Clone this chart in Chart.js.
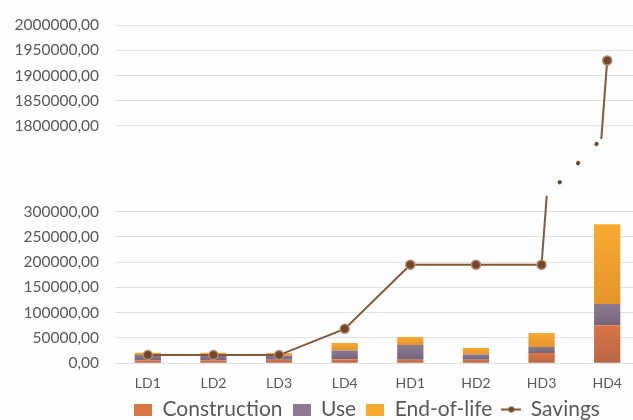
<!DOCTYPE html>
<html><head><meta charset="utf-8">
<script src="https://cdn.jsdelivr.net/npm/chart.js@4.4.1/dist/chart.umd.min.js"></script>
<style>html,body{margin:0;padding:0;background:#fdfdfd;overflow:hidden;width:633px;height:420px}canvas{display:block}</style>
</head><body>
<canvas id="c" width="646" height="420"></canvas>
<script>
// ---- data ----
const categories   = ['LD1','LD2','LD3','LD4','HD1','HD2','HD3','HD4'];
const construction = [6000, 6000, 7000, 8000, 7000, 7000, 20000, 75000];
const useStage     = [10000, 10000, 8000, 17000, 29000, 10000, 12000, 42000];
const endOfLife    = [4500, 4500, 5000, 15000, 16000, 13000, 28000, 158000];
const savings      = [16000, 16000, 16000, 68000, 195000, 195000, 195000, 1930000];
const seriesNames  = ['Construction', 'Use', 'End-of-life', 'Savings'];
const lowerRange   = [0, 300000];
const upperRange   = [1800000, 2000000];
const tickStep     = 50000;

// ---- styles ----
const colors = {
  construction:['#DA7544','#BA6646'], use:['#8C7A92','#76657C'], eol:['#F8AA30','#E6952C'],
  line:'#83593A', point:'#74472A', pointRing:'#B58B6B'
};
const textColor = '#595959';
const gridColor = '#E3E3E3';
const legendShift = 9;
const yAxisWidth = 100;
Chart.defaults.font.family = 'Lato';

const lastIdx = categories.length - 1;
const savingsUpper = savings.map((v, i) => i >= lastIdx - 1 ? v : null);
const fmt = v => Number(v).toFixed(2).replace('.', ',');

function barGradient(pair){
  return (ctx) => {
    const el = ctx.element;
    if (ctx.type !== 'data' || !el || !Number.isFinite(el.y) || !Number.isFinite(el.base) || el.y === el.base) return pair[0];
    const g = ctx.chart.ctx.createLinearGradient(0, el.y, 0, el.base);
    g.addColorStop(0, pair[0]); g.addColorStop(1, pair[1]);
    return g;
  };
}
function swatch(color){ const c=document.createElement('canvas'); c.width=18; c.height=12; const g=c.getContext('2d'); g.fillStyle=color; g.fillRect(0,0,18,12); return c; }
function lineSwatch(){ const c=document.createElement('canvas'); c.width=20; c.height=12; const g=c.getContext('2d'); g.strokeStyle=colors.line; g.lineWidth=2; g.beginPath(); g.moveTo(0,6); g.lineTo(20,6); g.stroke(); g.fillStyle=colors.point; g.beginPath(); g.arc(10,6,3,0,Math.PI*2); g.fill(); return c; }
const legendImgs = [swatch(colors.construction[0]), swatch(colors.use[0]), swatch(colors.eol[0]), lineSwatch()];

const breakPlugin = {
  id: 'axisBreak',
  afterLayout(chart){
    if (chart.legend) { chart.legend.left += legendShift; chart.legend.right += legendShift; }
  },
  beforeDatasetDraw(chart, args){
    const ds = chart.data.datasets[args.index];
    if (!ds.breakClip) return;
    const s = chart.scales[ds.yAxisID], a = chart.chartArea, ctx = chart.ctx;
    const top = s.top - ds.breakClip.top, bottom = s.bottom + ds.breakClip.bottom;
    ctx.save(); ctx.beginPath(); ctx.rect(a.left - 10, top, a.right - a.left + 20, bottom - top); ctx.clip();
  },
  afterDatasetDraw(chart, args){
    if (chart.data.datasets[args.index].breakClip) chart.ctx.restore();
  },
  afterDatasetsDraw(chart){
    const lo = chart.getDatasetMeta(3).data, up = chart.getDatasetMeta(4).data;
    const dsLo = chart.data.datasets[3], dsUp = chart.data.datasets[4];
    const yL = chart.scales.y.top - dsLo.breakClip.top;
    const yU = chart.scales.yTop.bottom + dsUp.breakClip.bottom;
    const p0 = lo[lastIdx-1], p1 = lo[lastIdx], q0 = up[lastIdx-1], q1 = up[lastIdx];
    const xL = p0.x + (yL - p0.y) / (p1.y - p0.y) * (p1.x - p0.x);
    const xU = q0.x + (yU - q0.y) / (q1.y - q0.y) * (q1.x - q0.x);
    const ctx = chart.ctx;
    ctx.save();
    ctx.strokeStyle = colors.point; ctx.lineWidth = 4; ctx.lineCap = 'round';
    ctx.setLineDash([0.5, 26]); ctx.lineDashOffset = 8;
    ctx.beginPath(); ctx.moveTo(xL, yL); ctx.lineTo(xU, yU); ctx.stroke();
    ctx.restore();
  }
};

const yCommon = {
  type:'linear', position:'left', stack:'v',
  border:{display:false},
  grid:{color:gridColor, drawTicks:false, lineWidth:1},
  ticks:{color:textColor, font:{size:15.5}, padding:16, stepSize:tickStep, autoSkip:false, callback: fmt},
  afterFit(scale){ scale.width = yAxisWidth; }
};

const chart = new Chart(document.getElementById('c'), {
  type:'bar',
  data:{
    labels: categories,
    datasets:[
      {label:seriesNames[0], data:construction, backgroundColor:barGradient(colors.construction), yAxisID:'y', order:1},
      {label:seriesNames[1], data:useStage, backgroundColor:barGradient(colors.use), yAxisID:'y', order:1},
      {label:seriesNames[2], data:endOfLife, backgroundColor:barGradient(colors.eol), yAxisID:'y', order:1},
      {type:'line', label:seriesNames[3], data:savings, yAxisID:'y', stack:'line', order:0, clip:false,
       breakClip:{top:16, bottom:12},
       borderColor:colors.line, borderWidth:2, tension:0,
       pointRadius:savings.map((v,i)=> i===lastIdx ? 0 : 4.5),
       pointBackgroundColor:colors.point, pointBorderColor:colors.pointRing, pointBorderWidth:1.5},
      {type:'line', label:seriesNames[3]+' ', data:savingsUpper, yAxisID:'yTop', stack:'line2', order:0, clip:false,
       breakClip:{top:12, bottom:13},
       borderColor:colors.line, borderWidth:2, tension:0,
       pointRadius:savingsUpper.map((v,i)=> i===lastIdx ? 4.5 : 0),
       pointBackgroundColor:colors.point, pointBorderColor:colors.pointRing, pointBorderWidth:1.5}
    ]
  },
  options:{
    responsive:false, animation:false, events:[],
    layout:{padding:{left:15, top:23, right:0, bottom:-10}},
    datasets:{bar:{categoryPercentage:1, barPercentage:0.4}},
    scales:{
      x:{stacked:true, grid:{display:false, drawTicks:false}, border:{display:false},
         ticks:{color:textColor, font:{size:14}, padding:12},
         afterFit(scale){ scale.height = 25.8; }},
      y:Object.assign({}, yCommon, {stacked:true, min:lowerRange[0], max:lowerRange[1], stackWeight:152}),
      yGap:{type:'linear', position:'left', stack:'v', stackWeight:86, display:true,
            grid:{display:false}, border:{display:false}, ticks:{display:false},
            afterFit(scale){ scale.width = yAxisWidth; }},
      yTop:Object.assign({}, yCommon, {min:upperRange[0], max:upperRange[1], stackWeight:101})
    },
    plugins:{
      tooltip:{enabled:false},
      legend:{position:'bottom', fullSize:false, align:'start',
        labels:{color:textColor, font:{size:21}, padding:10, boxWidth:18, boxHeight:12, usePointStyle:true,
          sort:(a,b)=>a.datasetIndex-b.datasetIndex,
          filter:item=>item.datasetIndex!==4,
          generateLabels(chart){
            const items = Chart.defaults.plugins.legend.labels.generateLabels(chart);
            return items.map(it => Object.assign(it, {pointStyle: legendImgs[it.datasetIndex] || it.pointStyle, lineWidth:0}));
          }
        }
      }
    }
  },
  plugins:[breakPlugin]
});
chart.update();
</script>
</body></html>
